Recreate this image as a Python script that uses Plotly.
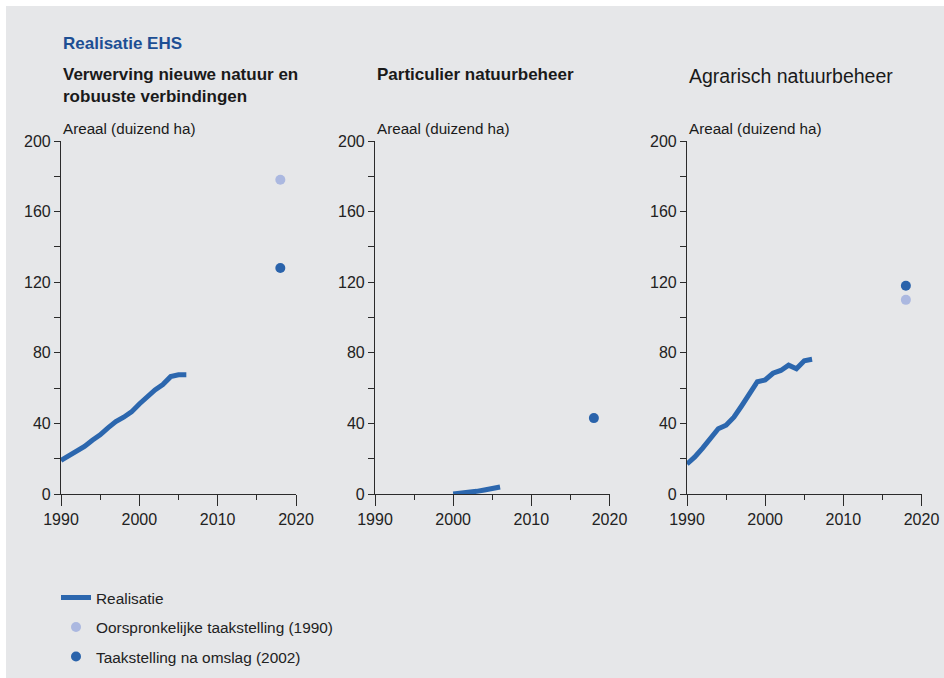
import plotly.graph_objects as go

# ---------------- data ----------------
years_p1 = list(range(1990, 2007))
real_p1 = [19, 21.5, 24, 27, 30.5, 33.5, 37.5, 41, 43.5, 46.5, 51, 55.5, 59, 62, 66.5, 67.5, 67.5]

years_p2 = list(range(2000, 2007))
real_p2 = [0, 0.3, 0.8, 1.5, 2.3, 3.3, 4]

years_p3 = list(range(1990, 2007))
real_p3 = [17, 21, 26, 31.5, 37, 39, 43.5, 50, 57, 63.6, 64.6, 68.4, 70, 73, 71, 75.5, 76.3]

target_year = [2018]
orig_targets = [178, None, 110]      # Oorspronkelijke taakstelling (1990)
new_targets = [128, 43, 118]         # Taakstelling na omslag (2002)

panel_titles = ["Verwerving nieuwe natuur en<br>robuuste verbindingen",
                "Particulier natuurbeheer",
                "Agrarisch natuurbeheer"]
panel_bold = [True, True, False]

# ---------------- style ----------------
W, H = 944, 678
BG = "#e6e7e9"
LINE = "#2c67ae"
LIGHT = "#abb8e0"
DARK = "#2a63ab"
AX = "#2b2b2b"
FONT = "Liberation Sans, Arial, Helvetica, sans-serif"

def px(x):
    return x / W

def py(y):
    return 1 - y / H

panels_x = [(61, 296), (375, 609.5), (687, 921.5)]
ytop, ybot = 141, 494

fig = go.Figure()

series = [(years_p1, real_p1), (years_p2, real_p2), (years_p3, real_p3)]
for i, (yrs, vals) in enumerate(series):
    xa = "x" if i == 0 else f"x{i+1}"
    ya = "y" if i == 0 else f"y{i+1}"
    fig.add_trace(go.Scatter(x=yrs, y=vals, mode="lines", xaxis=xa, yaxis=ya,
                             line=dict(color=LINE, width=5), name="Realisatie",
                             legendgroup="a", showlegend=(i == 0)))
    if orig_targets[i] is not None or i == 0:
        fig.add_trace(go.Scatter(x=target_year, y=[orig_targets[i]], mode="markers",
                                 xaxis=xa, yaxis=ya, marker=dict(color=LIGHT, size=10),
                                 name="Oorspronkelijke taakstelling (1990)",
                                 legendgroup="b", showlegend=(i == 0)))
    fig.add_trace(go.Scatter(x=target_year, y=[new_targets[i]], mode="markers",
                             xaxis=xa, yaxis=ya, marker=dict(color=DARK, size=10),
                             name="Taakstelling na omslag (2002)",
                             legendgroup="c", showlegend=(i == 0)))

layout = dict(
    width=W, height=H, margin=dict(l=0, r=0, t=0, b=0, autoexpand=False),
    paper_bgcolor="white", plot_bgcolor="white",
    showlegend=True,
    legend=dict(x=px(56), y=py(581), xanchor="left", yanchor="top",
                bgcolor="rgba(0,0,0,0)", font=dict(family=FONT, size=15.4, color="#222"),
                tracegroupgap=6.5, traceorder="grouped"),
    shapes=[dict(type="rect", xref="paper", yref="paper", x0=px(6), x1=1, y0=0, y1=py(6),
                 fillcolor=BG, line=dict(width=0), layer="below")],
)

for i, (x0, x1) in enumerate(panels_x):
    sfx = "" if i == 0 else str(i + 1)
    layout["xaxis" + sfx] = dict(
        domain=[px(x0), px(x1)], range=[1990, 2020], anchor="y" + sfx, automargin=False,
        tickvals=[1990, 2000, 2010, 2020], ticks="outside", ticklen=11, tickwidth=1.2,
        tickcolor=AX, showline=True, linecolor=AX, linewidth=1.2, showgrid=False,
        zeroline=False, tickfont=dict(family=FONT, size=16, color="#222"),
        minor=dict(dtick=5, tick0=1990, ticks="outside", ticklen=5, tickcolor=AX, tickwidth=1.2),
        fixedrange=True)
    layout["yaxis" + sfx] = dict(
        domain=[py(ybot), py(ytop)], range=[0, 200], anchor="x" + sfx, automargin=False,
        dtick=40, tick0=0, ticks="outside", ticklen=6, tickwidth=1.2, tickcolor=AX,
        showline=True, linecolor=AX, linewidth=1.2, showgrid=False, zeroline=False,
        tickfont=dict(family=FONT, size=16, color="#222"),
        minor=dict(dtick=20, tick0=0, ticks="outside", ticklen=6, tickcolor=AX, tickwidth=1.2),
        fixedrange=True)

fig.update_layout(**layout)

ann = []
ann.append(dict(text="<b>Realisatie EHS</b>", x=px(61), y=py(43), xref="paper", yref="paper",
                xanchor="left", yanchor="middle", showarrow=False,
                font=dict(family=FONT, size=17, color="#1d4f94")))
for i, (x0, x1) in enumerate(panels_x):
    t = f"<b>{panel_titles[i]}</b>" if panel_bold[i] else panel_titles[i]
    ann.append(dict(text=t, x=px(x0), y=py(63), xref="paper", yref="paper",
                    xanchor="left", yanchor="top", align="left", showarrow=False,
                    font=dict(family=FONT, size=17 if panel_bold[i] else 19.5, color="#1a1a1a")))
    ann.append(dict(text="Areaal (duizend ha)", x=px(x0), y=py(128), xref="paper", yref="paper",
                    xanchor="left", yanchor="middle", showarrow=False,
                    font=dict(family=FONT, size=15.2, color="#1a1a1a")))
fig.update_layout(annotations=ann)

fig.write_html("out.html", config={"displayModeBar": False, "staticPlot": False},
               post_script="document.body.style.margin='0';document.body.style.overflow='hidden';")
